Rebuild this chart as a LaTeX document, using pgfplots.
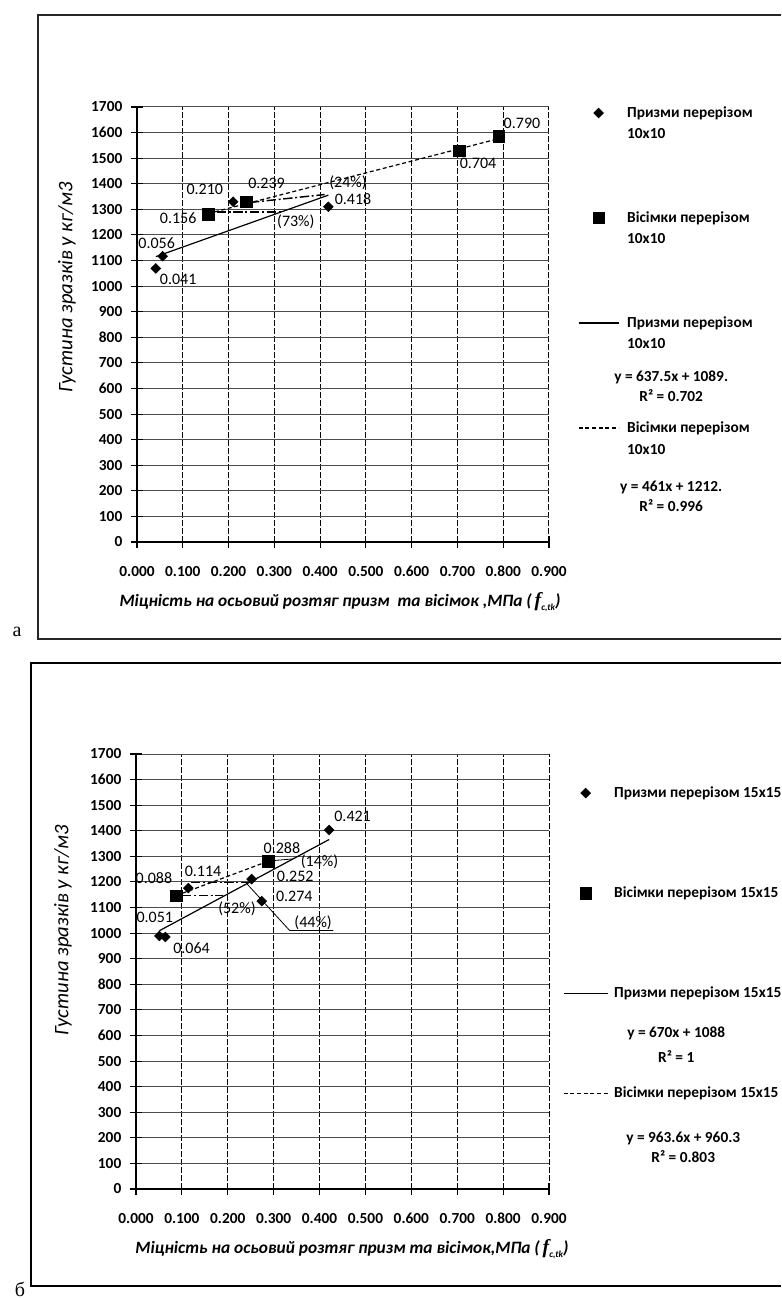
\documentclass[border=0pt]{standalone}
\usepackage{fontspec}
\setmainfont{Carlito}
\newfontfamily\timesfont{Liberation Serif}
\usepackage{pgfplots}
\pgfplotsset{compat=1.18}

\newcommand\tkf{\bfseries\fontsize{11.5}{13}\selectfont}
\newcommand\dlf{\fontsize{12}{14}\selectfont}
\newcommand\lgf{\bfseries\fontsize{11.5}{13}\selectfont}
\newcommand\below[2]{\rlap{\raisebox{-#1}[0pt][0pt]{#2}}}

\pgfplotsset{
 base/.style={
  scale only axis, anchor=south west,
  xmin=0,xmax=0.9,ymin=0,ymax=1700,
  xtick={0,0.1,0.2,0.3,0.4,0.5,0.6,0.7,0.8,0.9},
  xticklabels={0.000,0.100,0.200,0.300,0.400,0.500,0.600,0.700,0.800,0.900},
  ytick={0,100,...,1700},
  yticklabels={0,100,200,300,400,500,600,700,800,900,1000,1100,1200,1300,1400,1500,1600,1700},
  axis x line*=bottom, axis y line*=left,
  axis line style={black,line width=0.8pt},
  tick style={black,line width=0.8pt},
  tick align=center, major tick length=9pt,
  xmajorgrids, ymajorgrids,
  x grid style={black,line width=0.75pt,dash pattern=on 4.5pt off 1.5pt},
  y grid style={black!70,line width=0.75pt},
  tick label style={font=\tkf},
  xticklabel style={yshift=-10pt},
  yticklabel style={xshift=-3pt},
  clip=false,
  legend cell align=left,
  legend style={draw=none,fill=none,inner sep=0pt,outer sep=0pt,
     nodes={inner sep=0pt,outer sep=0pt,text height=8.5pt,text depth=2.5pt,font=\lgf},
     cells={anchor=west}},
 },
 lineimg/.style={legend image code/.code={\draw[##1] (0pt,0pt) -- (#1,0pt);}},
 markimg/.style={legend image code/.code={\draw[##1] plot coordinates {(#1,0pt)};}},
 dia/.style={only marks, mark=square*, mark size=2.6pt, mark options={rotate=45,fill=black,draw=black}},
 sq/.style={only marks, mark=square*, mark size=4.3pt, mark options={fill=black,draw=black}},
 trend/.style={black, line width=0.9pt, mark=none},
 tdash/.style={black, line width=0.9pt, mark=none, dash pattern=on 3pt off 2pt},
 ddot/.style={forget plot, black, line width=1.1pt, mark=none, dash pattern=on 7pt off 2pt on 1.5pt off 2pt},
 lead/.style={forget plot, black, line width=0.6pt, mark=none},
}

\begin{document}
\begin{tikzpicture}
\begin{scope}[x=0.75pt,y=-0.75pt]
\path[use as bounding box] (0,0) rectangle (780,1298);
% frames
\draw[line width=1.1pt, black!85] (781,15) -- (38,15) -- (38,639) -- (781,639);
\draw[line width=1.6pt, black] (781,663) -- (31,663) -- (31,1286) -- (781,1286);
\node[font=\timesfont\fontsize{15}{15}\selectfont] at (17,632) {а};
\node[font=\timesfont\fontsize{15}{15}\selectfont] at (20,1289) {б};
% axis titles
\node[rotate=90,font=\itshape\fontsize{15.5}{17}\selectfont] at (67,287) {Густина зразків у кг/м3};
\node[rotate=90,font=\itshape\fontsize{15.5}{17}\selectfont] at (63,930) {Густина зразків у кг/м3};
\node[font=\bfseries\itshape\fontsize{13}{15}\selectfont] at (340,602) {Міцність на осьовий розтяг призм\ \ та вісімок ,МПа (\,{\timesfont\itshape\fontsize{15}{15}\selectfont f}\raisebox{-0.5ex}{\fontsize{7}{7}\selectfont c,tk})};
\node[font=\bfseries\itshape\fontsize{13}{15}\selectfont] at (352,1249) {Міцність на осьовий розтяг призм та вісімок,МПа (\,{\timesfont\itshape\fontsize{15}{15}\selectfont f}\raisebox{-0.5ex}{\fontsize{7}{7}\selectfont c,tk})};
\end{scope}

% ---------------- panel a ----------------
\begin{axis}[base, at={(102.75pt,-406.5pt)}, width=309pt, height=326.25pt,
  legend style={at={(axis description cs:1.0704,1.003)},anchor=north west,row sep=67.75pt,column sep=6pt}]
\addplot[dia, markimg=15pt] coordinates {(0.041,1069) (0.056,1117) (0.210,1330) (0.418,1310)};
\addlegendentry{\below{15.75pt}{10x10}Призми перерізом}
\addplot[sq, markimg=15pt] coordinates {(0.156,1280) (0.239,1330) (0.704,1528) (0.790,1585)};
\addlegendentry{\below{15.75pt}{10x10}Вісімки перерізом}
\addplot[trend, lineimg=30pt] coordinates {(0.041,1115.1) (0.418,1355.5)};
\addlegendentry{\below{15.75pt}{10x10}\below{40.5pt}{\makebox[66pt][c]{y = 637.5x + 1089.}}\below{55.5pt}{\makebox[66pt][c]{R² = 0.702}}Призми перерізом}
\addplot[tdash, lineimg=30pt] coordinates {(0.156,1283.9) (0.790,1576.2)};
\addlegendentry{\below{16.5pt}{10x10}\below{44.25pt}{\makebox[66pt][c]{y = 461x + 1212.}}\below{59.25pt}{\makebox[66pt][c]{R² = 0.996}}Вісімки перерізом}
\addplot[ddot] coordinates {(0.174,1290) (0.319,1290)};
\addplot[ddot] coordinates {(0.247,1327) (0.410,1358)};
\node[font=\dlf] at (axis cs:0.090,1028) {0.041};
\node[font=\dlf] at (axis cs:0.043,1169) {0.056};
\node[font=\dlf] at (axis cs:0.090,1266) {0.156};
\node[font=\dlf] at (axis cs:0.148,1377) {0.210};
\node[font=\dlf] at (axis cs:0.283,1403) {0.239};
\node[font=\dlf] at (axis cs:0.472,1341) {0.418};
\node[font=\dlf] at (axis cs:0.347,1253) {(73\%)};
\node[font=\dlf] at (axis cs:0.461,1403) {(24\%)};
\node[font=\dlf] at (axis cs:0.745,1480) {0.704};
\node[font=\dlf] at (axis cs:0.841,1635) {0.790};
\end{axis}

% ---------------- panel b ----------------
\begin{axis}[base, at={(102pt,-891.75pt)}, width=309.75pt, height=326.25pt,
  legend style={at={(axis description cs:1.034,0.927)},anchor=north west,row sep=64pt,column sep=4.5pt}]
\addplot[dia, markimg=16.5pt] coordinates {(0.051,989) (0.064,985) (0.114,1176) (0.252,1211) (0.274,1125) (0.421,1403)};
\addlegendentry{Призми перерізом 15x15}
\addplot[sq, markimg=16.5pt] coordinates {(0.088,1147) (0.288,1281)};
\addlegendentry{Вісімки перерізом 15x15}
\addplot[trend, lineimg=33pt] coordinates {(0.051,1009.4) (0.421,1366.0)};
\addlegendentry{\below{30pt}{\makebox[93pt][c]{y = 670x + 1088}}\below{48.75pt}{\makebox[93pt][c]{R² = 1}}Призми перерізом 15x15}
\addplot[tdash, lineimg=33pt] coordinates {(0.088,1147) (0.288,1281)};
\addlegendentry{\below{33.75pt}{\makebox[103.5pt][c]{y = 963.6x + 960.3}}\below{48.75pt}{\makebox[103.5pt][c]{R² = 0.803}}Вісімки перерізом 15x15}
\addplot[ddot] coordinates {(0.100,1147) (0.190,1147)};
\addplot[ddot] coordinates {(0.120,1198) (0.245,1198)};
\addplot[lead] coordinates {(0.240,1196) (0.335,1010) (0.430,1010)};
\addplot[lead] coordinates {(0.295,1283) (0.342,1290)};
\node[font=\dlf] at (axis cs:0.039,1215) {0.088};
\node[font=\dlf] at (axis cs:0.146,1240) {0.114};
\node[font=\dlf] at (axis cs:0.041,1063) {0.051};
\node[font=\dlf] at (axis cs:0.121,942) {0.064};
\node[font=\dlf] at (axis cs:0.347,1220) {0.252};
\node[font=\dlf] at (axis cs:0.345,1142) {0.274};
\node[font=\dlf] at (axis cs:0.220,1094) {(52\%)};
\node[font=\dlf] at (axis cs:0.386,1041) {(44\%)};
\node[font=\dlf] at (axis cs:0.318,1331) {0.288};
\node[font=\dlf] at (axis cs:0.400,1279) {(14\%)};
\node[font=\dlf] at (axis cs:0.472,1455) {0.421};
\end{axis}
\end{tikzpicture}
\end{document}
